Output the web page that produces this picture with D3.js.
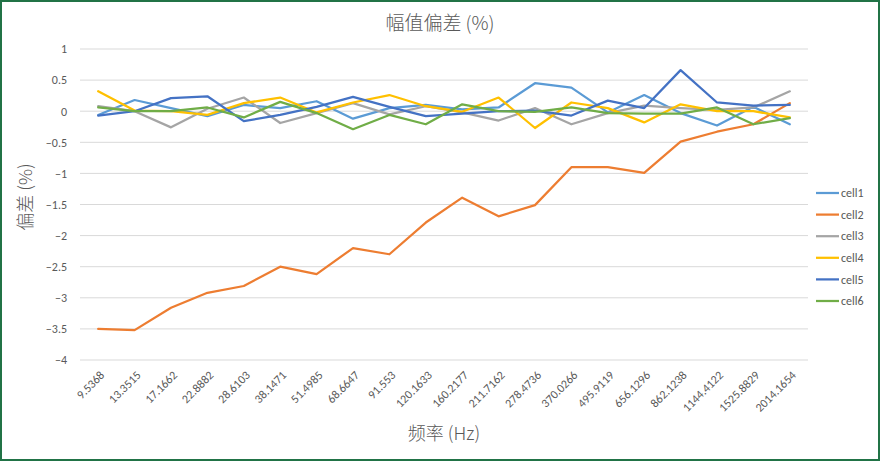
<!DOCTYPE html>
<html><head><meta charset="utf-8">
<script src="https://cdn.jsdelivr.net/npm/d3@7"></script>
<style>
html,body{margin:0;padding:0;background:#fff;}
svg{display:block;}
</style></head>
<body>
<script>
const categories = ["9.5368","13.3515","17.1662","22.8882","28.6103","38.1471","51.4985","68.6647","91.553","120.1633","160.2177","211.7162","278.4736","370.0266","495.9119","656.1296","862.1238","1144.4122","1525.8829","2014.1654"];
const cell1 = [-0.06,0.18,0.05,-0.08,0.10,0.05,0.16,-0.12,0.05,0.10,0.03,0.06,0.45,0.38,-0.02,0.26,-0.03,-0.23,0.07,-0.21];
const cell2 = [-3.50,-3.52,-3.16,-2.92,-2.81,-2.50,-2.62,-2.20,-2.30,-1.79,-1.39,-1.69,-1.51,-0.90,-0.90,-0.99,-0.49,-0.33,-0.21,0.13];
const cell3 = [0.08,0.00,-0.26,0.04,0.22,-0.19,-0.03,0.13,-0.05,0.08,-0.02,-0.15,0.05,-0.21,-0.03,0.09,0.05,0.02,0.06,0.32];
const cell4 = [0.32,0.01,0.00,-0.06,0.13,0.22,-0.02,0.14,0.26,0.08,-0.01,0.22,-0.27,0.14,0.05,-0.18,0.11,0.00,0.00,-0.10];
const cell5 = [-0.07,0.00,0.21,0.24,-0.16,-0.06,0.07,0.23,0.07,-0.08,-0.04,0.00,0.01,-0.07,0.17,0.05,0.66,0.14,0.09,0.10];
const cell6 = [0.06,0.00,0.00,0.06,-0.10,0.15,-0.03,-0.29,-0.06,-0.21,0.11,0.00,-0.01,0.06,-0.03,-0.04,-0.04,0.06,-0.21,-0.11];
const seriesNames = ["cell1","cell2","cell3","cell4","cell5","cell6"];
const seriesValues = [cell1,cell2,cell3,cell4,cell5,cell6];
const colors = ["#5B9BD5","#ED7D31","#A5A5A5","#FFC000","#4472C4","#70AD47"];
const yTicks = [1,0.5,0,-0.5,-1,-1.5,-2,-2.5,-3,-3.5,-4];

const W = 880, H = 461;
const svg = d3.select("body").append("svg").attr("width", W).attr("height", H);
svg.append("rect").attr("x",1).attr("y",1).attr("width",W-2).attr("height",H-2)
  .attr("fill","#fff").attr("stroke","#217346").attr("stroke-width",2);

const pLeft = 80, pRight = 808, pTop = 49, pBottom = 360;
const x = d3.scaleBand().domain(categories).range([pLeft, pRight]);
const y = d3.scaleLinear().domain([-4, 1]).range([pBottom, pTop]);
const font = "Calibri, 'Liberation Sans', 'Noto Sans', sans-serif";
const cjk = "'Noto Sans CJK SC', sans-serif";
const txt = "#595959";

// gridlines
svg.append("g").selectAll("line").data(yTicks).join("line")
  .attr("x1", pLeft).attr("x2", pRight)
  .attr("y1", d => y(d)).attr("y2", d => y(d))
  .attr("stroke", "#d9d9d9").attr("stroke-width", 1);

// y axis labels
const yAxis = d3.axisLeft(y).tickValues(yTicks).tickSize(0).tickPadding(0).tickFormat(d3.format("~g"));
const gy = svg.append("g").attr("transform", `translate(${pLeft-13},0)`).call(yAxis);
gy.select(".domain").remove();
gy.selectAll("text").attr("fill", txt).style("font-family", font).style("font-size", "12px");

// x axis labels
const xAxis = d3.axisBottom(x).tickSize(0).tickPadding(0);
const gx = svg.append("g").attr("transform", `translate(0,${pBottom})`).call(xAxis);
gx.select(".domain").remove();
gx.selectAll("text")
  .attr("fill", txt).style("font-family", font).style("font-size", "12px")
  .attr("text-anchor", "end").attr("dy", "0.35em").attr("y", 0)
  .attr("transform", "translate(4,13) rotate(-45)");

// lines
const line = d3.line().x((d,i) => x(categories[i]) + x.bandwidth()/2).y(d => y(d));
svg.append("g").selectAll("path").data(seriesValues).join("path")
  .attr("d", d => line(d)).attr("fill", "none")
  .attr("stroke", (d,i) => colors[i]).attr("stroke-width", 2.25)
  .attr("stroke-linejoin", "round").attr("stroke-linecap", "round");

// legend
const lg = svg.append("g");
seriesNames.forEach((n,i) => {
  const ly = 193 + i*21.6;
  lg.append("line").attr("x1", 816).attr("x2", 839).attr("y1", ly).attr("y2", ly)
    .attr("stroke", colors[i]).attr("stroke-width", 2.25);
  lg.append("text").attr("x", 841).attr("y", ly).attr("dy", "0.35em")
    .attr("fill", txt).style("font-family", font).style("font-size", "12px").text(n);
});

// titles
svg.append("text").attr("x", 440).attr("y", 30).attr("text-anchor","middle")
  .attr("fill", txt).style("font-family", cjk).style("font-weight", 300).style("font-size","19px").text("幅值偏差 (%)");
svg.append("text").attr("x", 444).attr("y", 440).attr("text-anchor","middle")
  .attr("fill", txt).style("font-family", cjk).style("font-weight", 300).style("font-size","18px").text("频率 (Hz)");
svg.append("text").attr("transform", "translate(32,197) rotate(-90)").attr("text-anchor","middle")
  .attr("fill", txt).style("font-family", cjk).style("font-weight", 300).style("font-size","18px").text("偏差 (%)");
</script>
</body></html>
